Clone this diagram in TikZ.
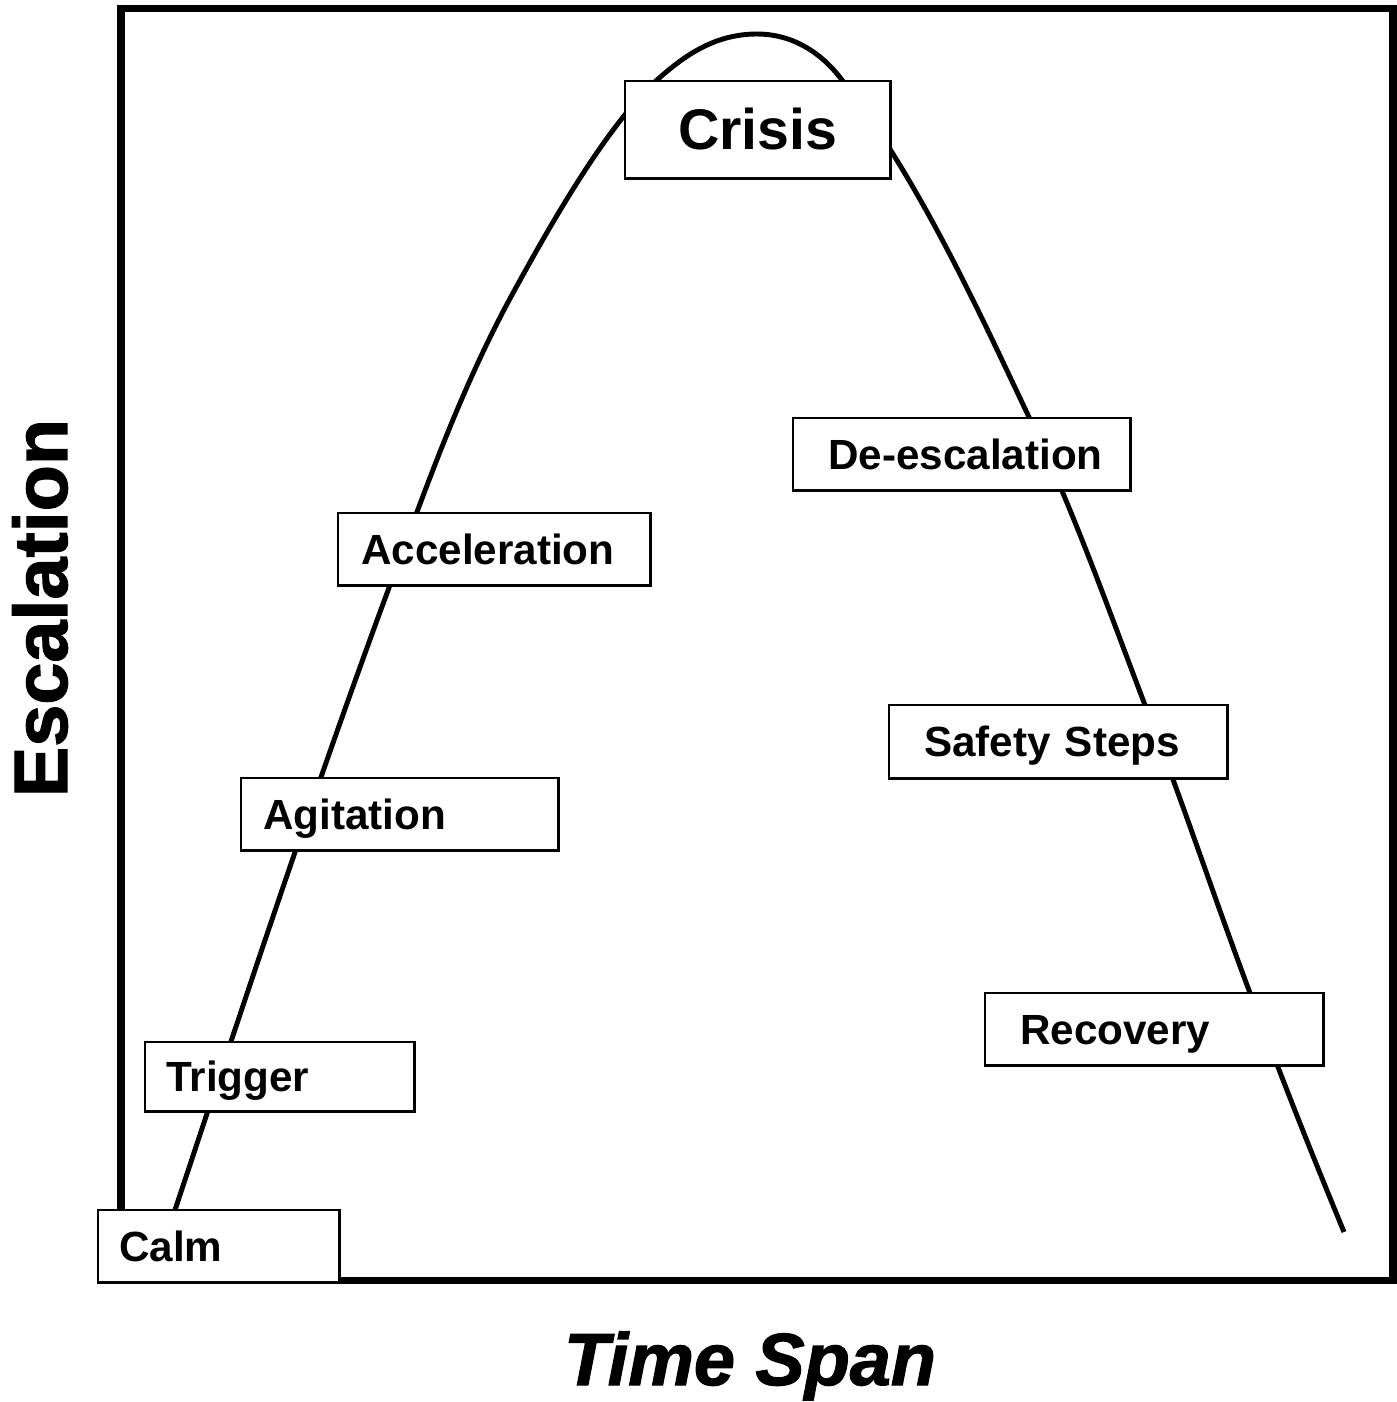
\documentclass[tikz,border=0pt]{standalone}
\usepackage{fontspec}
\setmainfont{Liberation Sans}
\newfontfamily\heavyfont[FakeBold=1.6]{Liberation Sans}

\tikzset{
	stage/.style={draw, line width=0.7pt, fill=white, anchor=north west, inner ysep=0pt, align=left, minimum height=0.72cm, text height=8.6pt, text depth=0pt, font=\bfseries\fontsize{12}{14}\selectfont},
	axislabel/.style={anchor=base, font=\heavyfont\bfseries\fontsize{21.5}{24}\selectfont}
}

\begin{document}
\begin{tikzpicture}[x=0.01cm, y=-0.01cm]
	\useasboundingbox (0,0) rectangle (1397,1402);

	% frame
	\draw [line width=2pt] (121,8.5) rectangle (1393,1280.5);

	% escalation curve
	\draw [line width=1.4pt] (175,1210) .. controls (244,1002) and (313,793) .. (390,585)
		.. controls (426,488) and (460,390) .. (513,293)
		.. controls (547,231) and (605,127) .. (657,80)
		.. controls (687,53) and (717,34) .. (757,34)
		.. controls (792,34) and (821,52) .. (842,80)
		.. controls (920,181) and (981,316) .. (1028,415)
		.. controls (1073,509) and (1108,608) .. (1145,705)
		.. controls (1182,800) and (1214,897) .. (1250,993)
		.. controls (1280,1074) and (1311,1152) .. (1344,1232);

	% stages
	\node [stage, inner xsep=0.21cm, text width=1.99cm] (calm) at (97,1209) {Calm};
	\node [stage, inner xsep=0.21cm, text width=2.27cm, minimum height=0.69cm] (trigger) at (144,1041) {Trigger};
	\node [stage, inner xsep=0.22cm, text width=2.73cm] (agitation) at (240,777) {Agitation};
	\node [stage, inner xsep=0.23cm, text width=2.66cm] (acceleration) at (337,512) {Acceleration};
	\node [stage, inner xsep=0pt, text width=2.65cm, align=center, minimum height=0.97cm, text height=11.5pt, font=\bfseries\fontsize{16.3}{19}\selectfont] (crisis) at (624,80) {Crisis};
	\node [stage, inner xsep=0.35cm, text width=2.67cm] (deescalation) at (792,417) {\mbox{De-escalation}};
	\node [stage, inner xsep=0.35cm, text width=2.68cm, minimum height=0.73cm] (safety) at (888,704) {Safety Steps};
	\node [stage, inner xsep=0.35cm, text width=2.68cm] (recovery) at (984,992) {Recovery};

	% axes
	\node [axislabel, rotate=90] (escalation) at (67,608) {Escalation};
	\node [axislabel, font=\heavyfont\bfseries\itshape\fontsize{21}{24}\selectfont] (timespan) at (750,1385) {Time Span};
\end{tikzpicture}
\end{document}
